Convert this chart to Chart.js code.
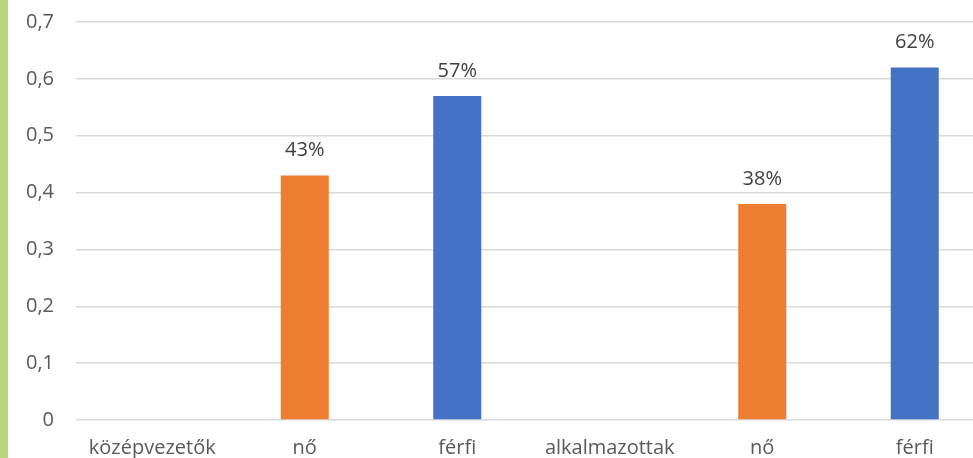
<!DOCTYPE html>
<html>
<head>
<meta charset="utf-8">
<script src="https://cdn.jsdelivr.net/npm/chart.js@4/dist/chart.umd.min.js"></script>
<style>
  html, body { margin: 0; padding: 0; background: #fff; overflow: hidden; }
  #wrap { position: absolute; left: 0; top: 0; width: 991px; height: 458px; }
  #strip { position: absolute; left: 0; top: 0; width: 8px; height: 458px; background: #b9d77c; }
</style>
</head>
<body>
<div id="wrap"><canvas id="myChart"></canvas></div>
<div id="strip"></div>
<script>
var categories = ['középvezetők', 'nő', 'férfi', 'alkalmazottak', 'nő', 'férfi'];
var shares = [null, 0.43, 0.57, null, 0.38, 0.62];
var barColors = ['#ffffff', '#ed7d31', '#4472c4', '#ffffff', '#ed7d31', '#4472c4'];
var yTickLabels = ['0', '0,1', '0,2', '0,3', '0,4', '0,5', '0,6', '0,7'];

// draws the "43%" style labels over each bar
var valueLabels = {
  id: 'valueLabels',
  afterDatasetsDraw: function(chart){
    var ctx = chart.ctx;
    var meta = chart.getDatasetMeta(0);
    ctx.save();
    ctx.font = '20px "Open Sans"';
    ctx.fillStyle = '#404040';
    ctx.textAlign = 'center';
    ctx.textBaseline = 'middle';
    meta.data.forEach(function(bar, i){
      if (shares[i] == null) return;
      ctx.fillText(Math.round(shares[i] * 100) + '%', bar.x, bar.y - 25);
    });
    ctx.restore();
  }
};

var ctx = document.getElementById('myChart').getContext('2d');
var myChart = new Chart(ctx, {
  type: 'bar',
  data: {
    labels: categories,
    datasets: [{
      data: shares,
      backgroundColor: barColors,
      categoryPercentage: 1,
      barPercentage: 0.315
    }]
  },
  plugins: [valueLabels],
  options: {
    responsive: true,
    maintainAspectRatio: false,
    animation: false,
    layout: { padding: { top: 22, left: 0, right: 0, bottom: 0 } },
    plugins: {
      legend: { display: false },
      tooltip: { enabled: false }
    },
    scales: {
      x: {
        grid: { display: false },
        border: { display: false },
        ticks: {
          color: '#595959',
          font: { family: 'Open Sans', size: 20 },
          padding: 8,
          maxRotation: 0,
          autoSkip: false
        },
        afterFit: function(scale){ scale.height = 38; }
      },
      y: {
        min: 0,
        max: 0.7,
        grid: { color: '#d9d9d9', lineWidth: 1.5, drawTicks: false },
        border: { display: false },
        ticks: {
          stepSize: 0.1,
          color: '#595959',
          font: { family: 'Open Sans', size: 20 },
          padding: 22,
          callback: function(value, index){ return yTickLabels[index]; }
        },
        afterFit: function(scale){
          scale.width = 76;
          scale.paddingTop = 0;
          scale.paddingBottom = 0;
        }
      }
    }
  }
});
</script>
</body>
</html>
